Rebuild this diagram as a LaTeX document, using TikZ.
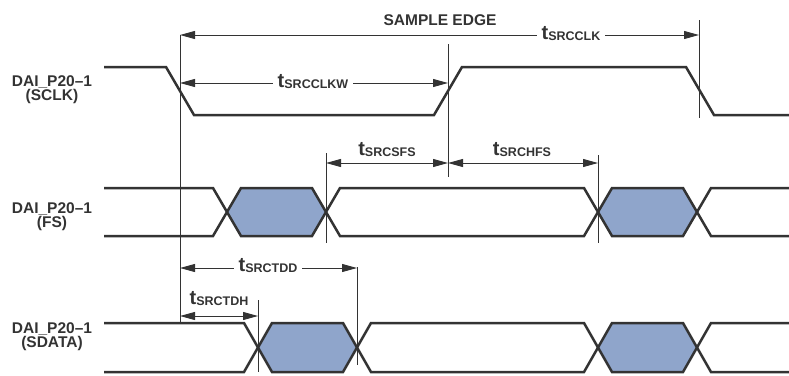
\documentclass[tikz,border=0pt]{standalone}
\usepackage{fontspec}
\setmainfont{Liberation Sans}
\usetikzlibrary{arrows.meta}
\definecolor{sig}{RGB}{51,51,51}
\definecolor{busfill}{RGB}{143,165,203}
\newcommand{\tlab}[1]{{\fontsize{20}{20}\selectfont t}\raisebox{-1pt}{\fontsize{12.5}{12.5}\selectfont #1}}
\begin{document}
\begin{tikzpicture}[x=1pt, y=-1pt, font=\bfseries\fontsize{15.5}{14}\selectfont, line join=miter, >={Triangle[length=15pt,width=8pt]},
	wave/.style={draw=sig, line width=2.5pt},
	marker/.style={draw=sig, line width=0.9pt},
	dim/.style={draw=sig, line width=0.9pt, <->},
	sname/.style={align=center, inner sep=0pt, text=sig},
	tname/.style={inner sep=1pt, text=sig}]
	\useasboundingbox (0,0) rectangle (789,375);
	\def\xs{104} % start of the traces
	\def\xe{789} % end of the traces
	\def\dx{14} % half width of a transition
	% signal names
	\node[sname] (clk) at (52,90) {DAI\_P20–1\\(SCLK)};
	\node[sname] (fs) at (52,217) {DAI\_P20–1\\(FS)};
	\node[sname] (sd) at (52,337) {DAI\_P20–1\\(SDATA)};
	% clock
	\draw[wave] (\xs,67) -- (166,67) -- (194,115) -- (434,115) -- (462,67) -- (686,67) -- (714,115) -- (\xe,115);
	% frame sync and data
	\foreach \yh/\yl/\ca/\cb in {188/236/227/326, 323/372/258/357}{
		\pgfmathsetmacro{\ym}{(\yh+\yl)/2}
		\foreach \u/\v in {\ca/\cb, 598/697}
			\filldraw[wave, fill=busfill] (\u,\ym) -- (\u+\dx,\yh) -- (\v-\dx,\yh) -- (\v,\ym) -- (\v-\dx,\yl) -- (\u+\dx,\yl) -- cycle;
		\draw[wave] (\cb,\ym) -- (\cb+\dx,\yh) -- (598-\dx,\yh) -- (598,\ym) -- (598-\dx,\yl) -- (\cb+\dx,\yl) -- cycle;
		\draw[wave] (\xs,\yh) -- (\ca-\dx,\yh) -- (\ca,\ym) -- (\ca-\dx,\yl) -- (\xs,\yl);
		\draw[wave] (\xe,\yh) -- (697+\dx,\yh) -- (697,\ym) -- (697+\dx,\yl) -- (\xe,\yl);
	}
	% timing marks
	\coordinate (S1) at (180,35); \coordinate (S2) at (180,322); % sample edge
	\coordinate (R1) at (448,44); \coordinate (R2) at (448,177);
	\coordinate (F1) at (699,20); \coordinate (F2) at (699,118);
	\coordinate (A1) at (326,153); \coordinate (A2) at (326,243);
	\coordinate (B1) at (598,155); \coordinate (B2) at (598,243);
	\coordinate (C1) at (357,267); \coordinate (C2) at (357,365);
	\coordinate (D1) at (258,300); \coordinate (D2) at (258,372);
	\foreach \p in {S,R,F,A,B,C,D} \draw[marker] (\p1) -- (\p2);
	\node[text=sig] (edge) at (440,20) {SAMPLE EDGE};
	% dimensions
	\coordinate (W) at (180,83);
	\coordinate (H) at (448,163);
	\coordinate (TD) at (180,268);
	\coordinate (TH) at (180,316);
	\draw[dim] (S1) -- (S1 -| F1);
	\draw[dim] (W) -- (W -| R1);
	\draw[dim] (H -| A1) -- (H);
	\draw[dim] (H) -- (H -| B1);
	\draw[dim] (TD) -- (TD -| C1);
	\draw[dim] (TH) -- (TH -| D1);
	\node[tname, fill=white, inner xsep=5pt] (tclk) at (571,34) {\tlab{SRCCLK}};
	\node[tname, fill=white, inner xsep=5pt] (tclkw) at (313,82) {\tlab{SRCCLKW}};
	\node[tname] (tsfs) at (387,150) {\tlab{SRCSFS}};
	\node[tname] (thfs) at (522,150) {\tlab{SRCHFS}};
	\node[tname, fill=white, inner xsep=5pt] (ttdd) at (268,266) {\tlab{SRCTDD}};
	\node[tname] (ttdh) at (219,299) {\tlab{SRCTDH}};
\end{tikzpicture}
\end{document}
